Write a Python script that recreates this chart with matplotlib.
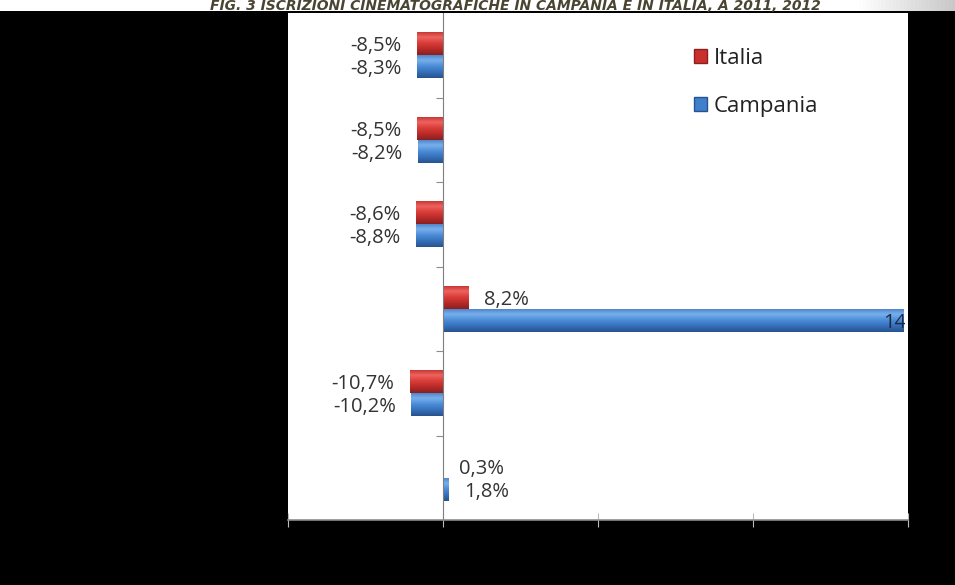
import matplotlib
matplotlib.use("Agg")
import matplotlib.pyplot as plt
import numpy as np
from matplotlib.colors import LinearSegmentedColormap
from matplotlib.patches import Rectangle, Patch

# ---- data -------------------------------------------------------------
categories = ["A", "B", "C", "D", "E", "F"]          # top to bottom
italia = [-8.5, -8.5, -8.6, 8.2, -10.7, 0.3]
campania = [-8.3, -8.2, -8.8, 148.4, -10.2, 1.8]
series_names = ["Italia", "Campania"]
title = "FIG. 3 ISCRIZIONI CINEMATOGRAFICHE IN CAMPANIA E IN ITALIA, A 2011, 2012"
xlim = (-50, 150)
xticks = [-50, 0, 50, 100, 150]

plt.rcParams["font.family"] = ["Open Sans", "DejaVu Sans"]

W, H = 955, 585
fig = plt.figure(figsize=(W / 100, H / 100), dpi=100, facecolor="black")

# ---- header strip with the title ---------------------------------------
hdr = fig.add_axes([0, (H - 11) / H, 1, 11 / H])
hdr.set_axis_off()
grad = np.linspace(0, 1, 256)[None, :]
hdr_cmap = LinearSegmentedColormap.from_list(
    "hdr", [(0, "#ffffff"), (0.90, "#ffffff"), (1.0, "#c8c8c8")])
hdr.imshow(grad, aspect="auto", cmap=hdr_cmap, extent=(0, 1, 0, 1))
hdr.set_xlim(0, 1)
hdr.set_ylim(0, 1)
fig.text(515 / W, (H - 10.5) / H, title, ha="center", va="baseline",
         fontsize=10, fontweight="bold", fontstyle="italic", color="#4a4432",
         family=["DejaVu Sans"])

# ---- main chart --------------------------------------------------------
ax = fig.add_axes([288 / W, (H - 520) / H, 620 / W, 507 / H])
ax.set_facecolor("white")

red_cmap = LinearSegmentedColormap.from_list(
    "red3d", ["#c0302c", "#ee6460", "#da3c38", "#b82a28", "#8a2020"])
blue_cmap = LinearSegmentedColormap.from_list(
    "blue3d", ["#4a7fc6", "#78b0ec", "#4c8cd8", "#3670ba", "#27538e"])

pos = np.arange(len(categories))
bh = 0.275


def shaded_barh(y, values, cmap):
    bars = ax.barh(y, values, height=bh, color="none", edgecolor="none")
    g = np.linspace(0, 1, 64)[:, None]
    for b in bars:
        x0, w = b.get_x(), b.get_width()
        y0, h = b.get_y(), b.get_height()
        im = ax.imshow(g, cmap=cmap, aspect="auto", origin="upper",
                       extent=(x0, x0 + w, y0 + h, y0), interpolation="bilinear",
                       zorder=2)
        im.set_clip_path(b)
    return bars


shaded_barh(pos - bh / 2, italia, red_cmap)
shaded_barh(pos + bh / 2, campania, blue_cmap)

ax.set_xlim(*xlim)
ax.set_ylim(len(categories) - 0.5, -0.5)
ax.set_xticks(xticks)
ax.set_xticklabels([])
ax.set_yticks(pos[:-1] + 0.5)
ax.set_yticklabels([])

for s in ["top", "right"]:
    ax.spines[s].set_visible(False)
ax.spines["left"].set_position(("data", 0))
ax.spines["left"].set_color("#7f7f7f")
ax.spines["bottom"].set_color("#8c8c8c")
ax.spines["bottom"].set_linewidth(1.2)
ax.tick_params(axis="y", length=5, color="#8c8c8c", direction="out")
ax.tick_params(axis="x", length=10, color="#bbbbbb", direction="inout")


def fmt(v):
    return f"{v:.1f}%".replace(".", ",")


# value labels
off = 5.0
lab_fs = 14.5
clip_rect = Rectangle((0, 0), 0.995, 1, transform=ax.transAxes,
                      facecolor="none", edgecolor="none")
ax.add_patch(clip_rect)
for i, (vi, vc) in enumerate(zip(italia, campania)):
    for v, yy in ((vi, i - bh / 2), (vc, i + bh / 2)):
        if v > xlim[1] - 15:
            t = ax.text(v - 6.5, yy, fmt(v), ha="left", va="center_baseline",
                        fontsize=lab_fs, color="#1f2a44", zorder=5,
                        clip_on=True)
            t.set_clip_path(clip_rect)
        elif v < 0:
            ax.text(v - off, yy, fmt(v), ha="right", va="center_baseline",
                    fontsize=lab_fs, color="#333333", zorder=5)
        else:
            ax.text(v + off, yy, fmt(v), ha="left", va="center_baseline",
                    fontsize=lab_fs, color="#333333", zorder=5)

# legend
handles = [Patch(facecolor="#c9302c", edgecolor="#8a2020"),
           Patch(facecolor="#3f7fcc", edgecolor="#27538e")]
ax.legend(handles, series_names, loc="upper left",
          bbox_to_anchor=((674 - 288) / 620, (520 - 28) / 507),
          frameon=False, fontsize=16, handlelength=0.6, handleheight=0.6,
          handletextpad=0.3, labelspacing=1.2, labelcolor="#222222")

fig.savefig("out.png", dpi=100, facecolor="black")
